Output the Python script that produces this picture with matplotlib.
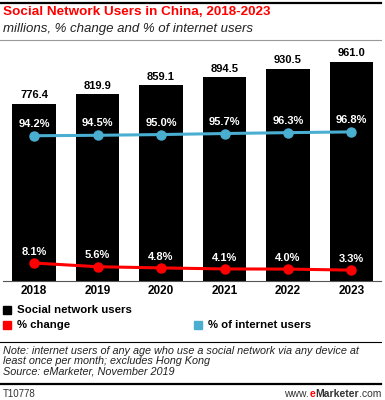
import matplotlib
matplotlib.use("Agg")
import matplotlib.pyplot as plt
from matplotlib.patches import Rectangle
from matplotlib.lines import Line2D

years = ["2018", "2019", "2020", "2021", "2022", "2023"]
users = [776.4, 819.9, 859.1, 894.5, 930.5, 961.0]
pct_change = [8.1, 5.6, 4.8, 4.1, 4.0, 3.3]
pct_internet = [94.2, 94.5, 95.0, 95.7, 96.3, 96.8]

RED = "#ff0000"
BLUE = "#4aaed1"
FONT = "Liberation Sans"

W, H = 385, 400
fig = plt.figure(figsize=(W / 100, H / 100), dpi=100)
plt.rcParams["font.family"] = FONT

def fy(py):
	# pixel row -> figure fraction
	return 1 - py / H

def fx(px):
	return px / W

# header
fig.add_artist(Line2D([fx(0), fx(381)], [fy(2.5), fy(2.5)], color="black", lw=1.6))
fig.text(fx(3), fy(12), "Social Network Users in China, 2018-2023", color=RED,
	fontsize=9.7, fontweight="bold", va="center")
fig.text(fx(3), fy(29), "millions, % change and % of internet users", color="#222222",
	fontsize=9.5, style="italic", va="center")
fig.add_artist(Line2D([fx(0), fx(381)], [fy(40), fy(40)], color="#999999", lw=0.8))

# main axes
ax = fig.add_axes([fx(3), fy(281), fx(378), 231 / H])
x = list(range(len(years)))
ax.bar(x, users, width=0.69, color="black", zorder=1)
ax.set_xlim(-0.49, 5.465)
ax.set_ylim(0, 1013)
for xi, v in zip(x, users):
	ax.annotate(f"{v:.1f}", (xi, v), xytext=(0, 2.5), textcoords="offset points",
		ha="center", va="bottom", fontsize=8, fontweight="bold")
ax.set_xticks(x)
ax.set_xticklabels(years, fontsize=8.5, fontweight="bold")
ax.tick_params(axis="x", length=0, pad=3)
ax.set_yticks([])
for s in ["top", "right", "left"]:
	ax.spines[s].set_visible(False)
ax.spines["bottom"].set_color("#555555")
ax.spines["bottom"].set_linewidth(0.8)

ax2 = ax.twinx()
ax2.set_ylim(-4.06, 152.2)
ax2.plot(x, pct_internet, color=BLUE, lw=2.2, marker="o", ms=6.5, zorder=3)
ax2.plot(x, pct_change, color=RED, lw=2.2, marker="o", ms=6.5, zorder=3)
for xi, v in zip(x, pct_internet):
	ax2.annotate(f"{v:.1f}%", (xi, v), xytext=(0, 5), textcoords="offset points",
		ha="center", va="bottom", fontsize=8, fontweight="bold", color="white")
for xi, v in zip(x, pct_change):
	ax2.annotate(f"{v:.1f}%", (xi, v), xytext=(0, 4.5), textcoords="offset points",
		ha="center", va="bottom", fontsize=8, fontweight="bold", color="white")
ax2.set_yticks([])
for s in ["top", "right", "left", "bottom"]:
	ax2.spines[s].set_visible(False)

# legend
legend_items = [
	("Social network users", "black", 3, 310),
	("% change", RED, 3, 325),
	("% of internet users", BLUE, 194, 325),
]
for label, col, px, py in legend_items:
	fig.add_artist(Rectangle((fx(px), fy(py + 4)), fx(8), 8 / H, color=col,
		transform=fig.transFigure))
	fig.text(fx(px + 14), fy(py), label, fontsize=8.2, fontweight="bold", va="center")

# footer
fig.add_artist(Line2D([fx(0), fx(381)], [fy(342), fy(342)], color="black", lw=0.8))
notes = [
	"Note: internet users of any age who use a social network via any device at",
	"least once per month; excludes Hong Kong",
	"Source: eMarketer, November 2019",
]
for i, line in enumerate(notes):
	fig.text(fx(3), fy(351 + i * 10), line, fontsize=7.8, style="italic",
		color="#222222", va="center")
fig.add_artist(Line2D([fx(0), fx(381)], [fy(384), fy(384)], color="black", lw=1.6))
fig.text(fx(3), fy(394), "T10778", fontsize=7, color="#333333", va="center")

# www.eMarketer.com, built right to left
parts = [(".com", "normal", "#333333"), ("Marketer", "bold", "#333333"),
	("e", "bold", RED), ("www.", "normal", "#333333")]
right = 381
for txt, wt, col in parts:
	t = fig.text(fx(right), fy(394), txt, fontsize=7.5, fontweight=wt,
		color=col, ha="right", va="center")
	fig.canvas.draw()
	right = t.get_window_extent().x0

fig.savefig("out.png", dpi=100)
